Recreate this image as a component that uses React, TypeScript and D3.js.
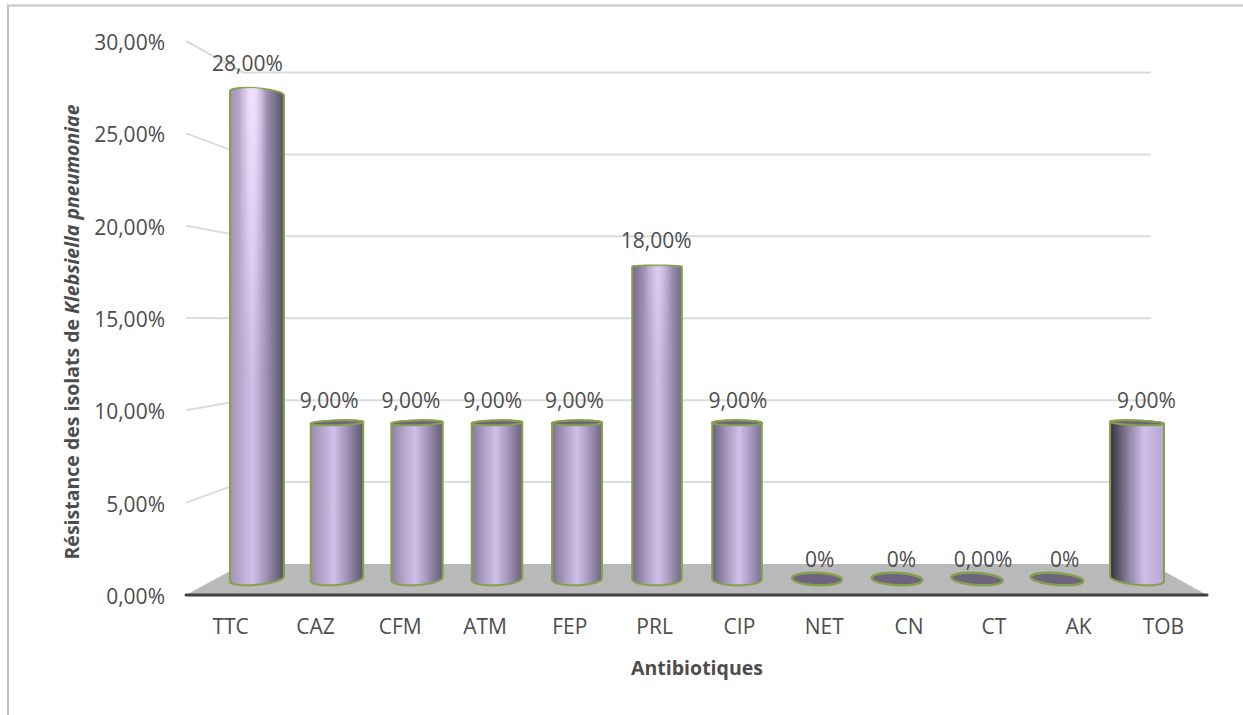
import React from "react";
import * as d3 from "d3";

const categories = ["TTC", "CAZ", "CFM", "ATM", "FEP", "PRL", "CIP", "NET", "CN", "CT", "AK", "TOB"];
const resistance = [28, 9, 9, 9, 9, 18, 9, 0, 0, 0, 0, 9];
const valueLabels = ["28,00%", "9,00%", "9,00%", "9,00%", "9,00%", "18,00%", "9,00%", "0%", "0%", "0,00%", "0%", "9,00%"];
const yTicks = [0, 5, 10, 15, 20, 25, 30];
const yTickLabels = ["0,00%", "5,00%", "10,00%", "15,00%", "20,00%", "25,00%", "30,00%"];

const WIDTH = 1243;
const HEIGHT = 715;
const FONT = "'Open Sans', sans-serif";
const TEXT = "#4d4d4d";
const LABEL_SIZE = 21;
const TITLE_SIZE = 19.5;

// Perspective of the 3D box: side edges converge on this vanishing point.
const VP = { x: 696.5, y: 318 };
const FRONT_LEFT = 186;
const FRONT_RIGHT = 1207;
const BACK_LEFT = 243;
const BACK_RIGHT = 1151;

const yFront = d3.scaleLinear().domain([0, 30]).range([595, 41]);
const yBack = d3.scaleLinear().domain([0, 30]).range([564, 72.5]);
const yBar = d3.scaleLinear().domain([0, 30]).range([579, 58.5]);
const xBar = d3.scaleBand().domain(categories).range([217, 1177]);

const RADIUS = 24.8;
const DEPTH = 0.024;

// Circle at the given height, sheared along the direction to the vanishing point.
function ringPoints(cx: number, y: number): [number, number][] {
  const dx = (VP.x - cx) * DEPTH;
  const dy = (VP.y - y) * DEPTH;
  return d3.range(0, 64).map((i) => {
    const t = (i / 64) * 2 * Math.PI;
    return [cx + RADIUS * Math.cos(t) + dx * Math.sin(t), y + dy * Math.sin(t)] as [number, number];
  });
}

const closedLine = d3.line().curve(d3.curveLinearClosed);
const leftShade = d3.piecewise(d3.interpolateRgb, ["#a797ba", "#6f6585", "#3f3a4a"]);
const rightShade = d3.piecewise(d3.interpolateRgb, ["#5f5670", "#76698c", "#b9a9d2"]);

export default function App() {
  const bars = categories.map((name, i) => {
    const cx = xBar(name)! + xBar.bandwidth() / 2;
    const u = (cx - VP.x) / 440;
    const y = yBar(resistance[i]);
    const top = ringPoints(cx, y);
    const bottom = ringPoints(cx, yBar(0));
    const hull = d3.polygonHull([...top, ...bottom]) as [number, number][];
    return { name, cx, u, y, top, hull, value: resistance[i], label: valueLabels[i], peak: 0.53 + 0.12 * u };
  });

  return (
    <svg
      width={WIDTH}
      height={HEIGHT}
      viewBox={`0 0 ${WIDTH} ${HEIGHT}`}
      style={{ position: "absolute", left: 0, top: 0, background: "#fff" }}
    >
      <defs>
        {bars.map((b, i) => {
          const t = (b.u + 1) / 2;
          const left = leftShade(t);
          const right = rightShade(t);
          return (
            <React.Fragment key={b.name}>
              <linearGradient
                id={`cyl-${i}`}
                gradientUnits="userSpaceOnUse"
                x1={b.cx - RADIUS}
                x2={b.cx + RADIUS}
                y1={0}
                y2={0}
              >
                <stop offset="0" stopColor={left} />
                <stop offset={b.peak * 0.55} stopColor={d3.interpolateRgb(left, "#cdbde6")(0.6)} />
                <stop offset={b.peak} stopColor="#d0c0ea" />
                <stop offset={b.peak + (1 - b.peak) * 0.4} stopColor={d3.interpolateRgb("#cdbde6", right)(0.35)} />
                <stop offset="1" stopColor={right} />
              </linearGradient>
              {/* Brighter highlight band that only shows on the upper part of the tall cylinder */}
              <linearGradient
                id={`sheen-${i}`}
                gradientUnits="userSpaceOnUse"
                x1={b.cx - RADIUS}
                x2={b.cx + RADIUS}
                y1={0}
                y2={0}
              >
                <stop offset={b.peak - 0.28} stopColor="#f0e2ff" stopOpacity={0} />
                <stop offset={b.peak - 0.05} stopColor="#f0e2ff" stopOpacity={0.9} />
                <stop offset={b.peak + 0.05} stopColor="#f0e2ff" stopOpacity={0.9} />
                <stop offset={b.peak + 0.28} stopColor="#f0e2ff" stopOpacity={0} />
              </linearGradient>
            </React.Fragment>
          );
        })}
        <linearGradient id="sheen-fade" gradientUnits="userSpaceOnUse" x1={0} x2={0} y1={110} y2={380}>
          <stop offset="0" stopColor="#fff" />
          <stop offset="1" stopColor="#000" />
        </linearGradient>
        <mask id="sheen-mask" maskUnits="userSpaceOnUse" x={0} y={0} width={WIDTH} height={HEIGHT}>
          <rect width={WIDTH} height={HEIGHT} fill="url(#sheen-fade)" />
        </mask>
      </defs>

      {/* Chart frame */}
      <path d="M8 715 V5.5 H1243" fill="none" stroke="#c4c4c4" strokeWidth={2} />

      {/* Back wall and left wall gridlines */}
      {yTicks.filter((v) => v > 0).map((v) => (
        <g key={v} fill="none" stroke="#dcdcdc" strokeWidth={2}>
          <line x1={FRONT_LEFT} y1={yFront(v)} x2={BACK_LEFT} y2={yBack(v)} />
          <line x1={BACK_LEFT} y1={yBack(v)} x2={BACK_RIGHT} y2={yBack(v)} />
        </g>
      ))}

      {/* Floor */}
      <polygon
        points={[
          [FRONT_LEFT, yFront(0)],
          [BACK_LEFT, yBack(0)],
          [BACK_RIGHT, yBack(0)],
          [FRONT_RIGHT, yFront(0)],
        ].join(" ")}
        fill="#b9b9b9"
      />
      <line x1={FRONT_LEFT} x2={FRONT_RIGHT} y1={yFront(0)} y2={yFront(0)} stroke="#404040" strokeWidth={3} strokeLinecap="round" />

      {/* Cylinders */}
      {bars.map((b, i) =>
        b.value > 0 ? (
          <g key={b.name}>
            <path d={closedLine(b.hull)!} fill={`url(#cyl-${i})`} stroke="#84a04a" strokeWidth={2} strokeLinejoin="round" />
            <path d={closedLine(b.hull)!} fill={`url(#sheen-${i})`} mask="url(#sheen-mask)" />
            {b.y > VP.y ? <path d={closedLine(b.top)!} fill="#6f6480" stroke="#84a04a" strokeWidth={2} /> : null}
          </g>
        ) : (
          <path key={b.name} d={closedLine(b.top)!} fill="#6f6480" stroke="#84a04a" strokeWidth={2.4} />
        ),
      )}

      {/* Value axis labels */}
      {yTicks.map((v, i) => (
        <text key={v} x={165} y={yFront(v) + 1.5} dy="0.35em" textAnchor="end" fontFamily={FONT} fontSize={LABEL_SIZE} fill={TEXT}>
          {yTickLabels[i]}
        </text>
      ))}

      {/* Category labels, projected onto the front edge */}
      {bars.map((b) => (
        <text key={b.name} x={VP.x + (b.cx - VP.x) * 1.06} y={634} textAnchor="middle" fontFamily={FONT} fontSize={LABEL_SIZE} fill={TEXT}>
          {b.name}
        </text>
      ))}

      {/* Data labels */}
      {bars.map((b) => (
        <text
          key={b.name}
          x={b.cx + (b.cx - VP.x) * 0.0216}
          y={b.y - 12 - b.value * 0.36}
          textAnchor="middle"
          fontFamily={FONT}
          fontSize={LABEL_SIZE}
          fill={TEXT}
        >
          {b.label}
        </text>
      ))}

      {/* Axis titles */}
      <text x={697} y={675} textAnchor="middle" fontFamily={FONT} fontSize={TITLE_SIZE} fontWeight={700} fill={TEXT}>
        Antibiotiques
      </text>
      <text
        transform="translate(79,332) rotate(-90)"
        textAnchor="middle"
        fontFamily={FONT}
        fontSize={TITLE_SIZE}
        fontWeight={700}
        fill={TEXT}
      >
        Résistance des isolats de <tspan fontStyle="italic">Klebsiella pneumoniae</tspan>
      </text>
    </svg>
  );
}
